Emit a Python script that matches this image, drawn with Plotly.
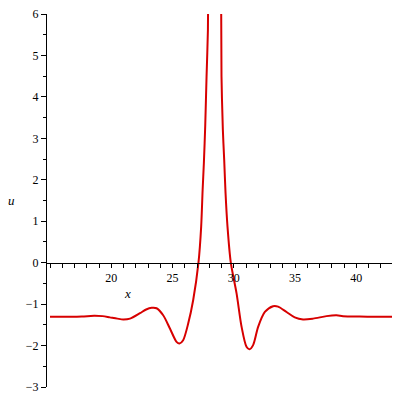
import plotly.graph_objs as go

# values (x, u)
x_vals = [15.0, 16.5, 17.6, 18.6, 19.3, 19.89, 20.5, 20.98, 21.53, 22.34, 22.85,
          23.30, 23.70, 24.24, 24.79, 25.33, 25.57, 25.87, 26.28, 26.69, 27.12,
          27.34, 27.46, 27.56, 27.67, 27.78, 27.89, 27.93, 28.45, 28.96, 29.0,
          29.11, 29.22, 29.33, 29.49, 29.76, 30.23, 30.64, 31.04, 31.28, 31.58,
          31.99, 32.54, 33.21, 33.62, 34.31, 34.98, 35.66, 36.48, 37.57, 38.38,
          38.92, 40.29, 41.5, 43.0]
u_vals = [-1.307, -1.306, -1.30, -1.28, -1.29, -1.32, -1.35, -1.37, -1.35, -1.22, -1.13,
          -1.09, -1.10, -1.27, -1.59, -1.91, -1.95, -1.87, -1.47, -0.90, 0.0,
          0.87, 1.76, 2.40, 3.29, 4.5, 5.6, 7.0, 30.0, 7.0, 4.5,
          3.21, 2.48, 1.68, 0.87, 0.0, -0.74, -1.55, -2.03, -2.09, -1.99,
          -1.55, -1.19, -1.05, -1.06, -1.19, -1.32, -1.37, -1.35, -1.29, -1.27,
          -1.29, -1.30, -1.305, -1.307]

x_range = [14.755, 43.0]
u_range = [-3, 6]

serif = 'Liberation Serif, Times New Roman, serif'

fig = go.Figure()

fig.add_trace(go.Scatter(
    x=x_vals,
    y=u_vals,
    mode='lines',
    line={'color': 'rgb(215,0,0)', 'width': 2, 'shape': 'spline', 'smoothing': 0.8},
    showlegend=False,
    hoverinfo='skip',
))

# page body keeps its 8px margin, so the figure is 392 wide/high
fig.update_layout(
    width=392,
    height=392,
    margin={'l': 39, 'r': 7, 't': 6, 'b': 13, 'autoexpand': False},
    plot_bgcolor='white',
    paper_bgcolor='white',
    font={'family': serif, 'size': 12, 'color': 'black'},
    annotations=[
        dict(x=21.34, y=-0.74, xref='x', yref='y', text='<i>x</i>', showarrow=False,
             font={'family': serif, 'size': 13}),
        dict(x=-0.102, y=0.5, xref='paper', yref='paper', text='<i>u</i>', showarrow=False,
             xanchor='center', font={'family': serif, 'size': 13}),
    ],
)

fig.update_xaxes(
    range=x_range,
    anchor='free',
    position=(0 - u_range[0]) / (u_range[1] - u_range[0]),
    automargin=False,
    showline=True,
    linecolor='black',
    linewidth=1,
    showgrid=False,
    zeroline=False,
    ticks='outside',
    ticklen=4,
    tickcolor='black',
    tickvals=[20, 25, 30, 35, 40],
    minor={'ticks': 'outside', 'ticklen': 4, 'tickcolor': 'black', 'dtick': 1, 'tick0': 0,
           'showgrid': False},
    tickfont={'family': serif, 'size': 12},
)

fig.update_yaxes(
    range=u_range,
    automargin=False,
    showline=True,
    linecolor='black',
    linewidth=1,
    showgrid=False,
    zeroline=False,
    ticks='outside',
    ticklen=5,
    tickcolor='black',
    dtick=1,
    ticklabeloverflow='allow',
    minor={'ticks': 'outside', 'ticklen': 3, 'tickcolor': 'black', 'dtick': 0.5,
           'showgrid': False},
    tickfont={'family': serif, 'size': 12},
)

fig.write_html("out.html")
